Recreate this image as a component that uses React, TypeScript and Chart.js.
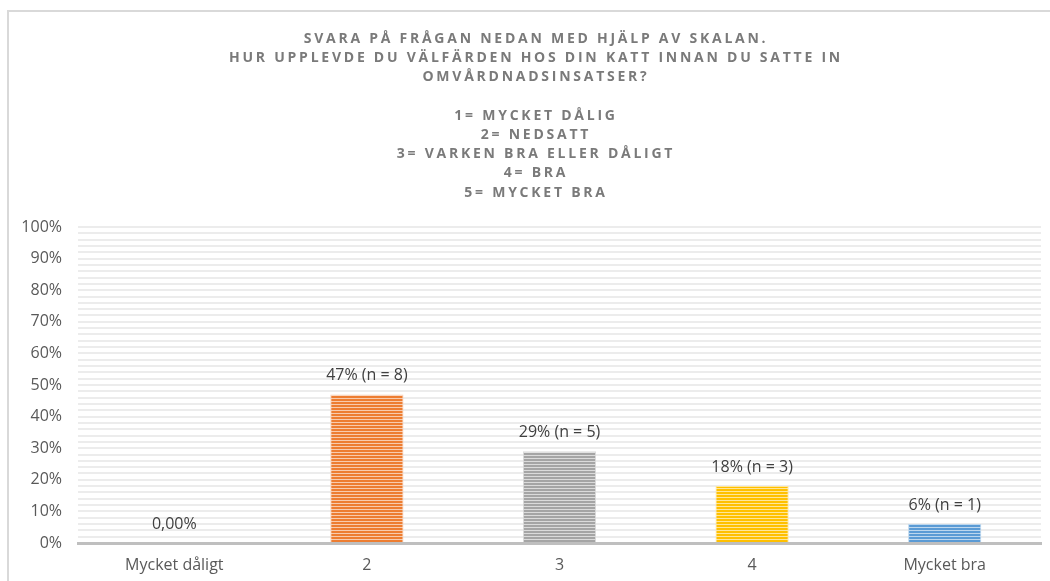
import React, { useEffect, useRef } from "react";
import { Chart, registerables } from "chart.js";

Chart.register(...registerables);

const TITLE_LINES = [
  "SVARA PÅ FRÅGAN NEDAN MED HJÄLP AV SKALAN.",
  "HUR UPPLEVDE DU VÄLFÄRDEN HOS DIN KATT INNAN DU SATTE IN",
  "OMVÅRDNADSINSATSER?",
  "",
  "1= MYCKET DÅLIG",
  "2= NEDSATT",
  "3= VARKEN BRA ELLER DÅLIGT",
  "4= BRA",
  "5= MYCKET BRA",
];

const CATEGORIES = ["Mycket dåligt", "2", "3", "4", "Mycket bra"];
const VALUES = [0, 47, 29, 18, 6];
const DATA_LABELS = ["0,00%", "47% (n = 8)", "29% (n = 5)", "18% (n = 3)", "6% (n = 1)"];
const BAR_COLORS = ["#4472C4", "#ED7D31", "#A5A5A5", "#FFC000", "#5B9BD5"];
const BAR_LIGHT = ["#B4C7E7", "#F8CBAD", "#DBDBDB", "#FFE699", "#BDD7EE"];
const Y_MAX = 100;
const Y_LABEL_STEP = 10;
const Y_STRIPE_STEP = 2;

function stripePattern(ctx: CanvasRenderingContext2D, dark: string, light: string) {
  const c = document.createElement("canvas");
  c.width = 4;
  c.height = 3;
  const p = c.getContext("2d")!;
  p.fillStyle = dark;
  p.fillRect(0, 0, 4, 2);
  p.fillStyle = light;
  p.fillRect(0, 2, 4, 1);
  return ctx.createPattern(c, "repeat")!;
}

const frameAndTitle = {
  id: "frameAndTitle",
  beforeDraw(chart: any) {
    const ctx = chart.ctx as CanvasRenderingContext2D;
    ctx.save();
    ctx.fillStyle = "#ffffff";
    ctx.fillRect(0, 0, chart.width, chart.height);
    ctx.strokeStyle = "#d9d9d9";
    ctx.lineWidth = 2;
    ctx.beginPath();
    ctx.moveTo(8, chart.height);
    ctx.lineTo(8, 11);
    ctx.lineTo(chart.width, 11);
    ctx.stroke();
    ctx.restore();
  },
  afterDraw(chart: any) {
    const ctx = chart.ctx as CanvasRenderingContext2D;
    ctx.save();
    ctx.font = "bold 14px 'Open Sans'";
    (ctx as any).letterSpacing = "2.75px";
    ctx.fillStyle = "#7a7a7a";
    ctx.textAlign = "center";
    ctx.textBaseline = "middle";
    const cx = 536;
    TITLE_LINES.forEach((line, i) => {
      if (line) ctx.fillText(line, cx, 39 + i * 19.2);
    });
    ctx.restore();
  },
};

const barLabels = {
  id: "barLabels",
  afterDatasetsDraw(chart: any) {
    const ctx = chart.ctx as CanvasRenderingContext2D;
    const meta = chart.getDatasetMeta(0);
    ctx.save();
    ctx.font = "16px 'Open Sans'";
    ctx.fillStyle = "#404040";
    ctx.textAlign = "center";
    ctx.textBaseline = "middle";
    meta.data.forEach((bar: any, i: number) => {
      ctx.fillText(DATA_LABELS[i], bar.x, bar.y - 19);
    });
    ctx.restore();
  },
};

export default function App() {
  const ref = useRef<HTMLCanvasElement>(null);

  useEffect(() => {
    const canvas = ref.current!;
    const ctx = canvas.getContext("2d")!;
    const fills = BAR_COLORS.map((c, i) => stripePattern(ctx, c, BAR_LIGHT[i]));
    const chart = new Chart(canvas, {
      type: "bar",
      data: {
        labels: CATEGORIES,
        datasets: [
          {
            data: VALUES,
            backgroundColor: fills,
            borderColor: BAR_LIGHT,
            borderWidth: 1,
            categoryPercentage: 1,
            barPercentage: 0.38,
          },
        ],
      },
      options: {
        responsive: false,
        devicePixelRatio: 1,
        animation: false,
        layout: { padding: { top: 227, right: 9, left: 0, bottom: 0 } },
        plugins: {
          legend: { display: false },
          title: { display: false },
          tooltip: { enabled: false },
        },
        scales: {
          x: {
            afterFit: (s: any) => {
              s.height = 38;
            },
            grid: { display: false, drawTicks: false },
            border: { display: true, color: "#bfbfbf", width: 3 },
            ticks: {
              color: "#595959",
              font: { family: "'Open Sans'", size: 16 },
              padding: 13,
            },
          },
          y: {
            min: 0,
            max: Y_MAX,
            afterFit: (s: any) => {
              s.width = 78;
            },
            border: { display: false },
            grid: { color: "#ececec", lineWidth: 2, drawTicks: false },
            ticks: {
              stepSize: Y_STRIPE_STEP,
              maxTicksLimit: 200,
              autoSkip: false,
              color: "#595959",
              font: { family: "'Open Sans'", size: 16 },
              padding: 16,
              callback: (v: any) => (Number(v) % Y_LABEL_STEP === 0 ? v + "%" : ""),
            },
          },
        },
      },
      plugins: [frameAndTitle, barLabels],
    });
    return () => chart.destroy();
  }, []);

  return (
    <div style={{ position: "fixed", left: 0, top: 0, width: 1050, height: 581, background: "#fff" }}>
      <canvas ref={ref} width={1050} height={581} style={{ display: "block" }} />
    </div>
  );
}
